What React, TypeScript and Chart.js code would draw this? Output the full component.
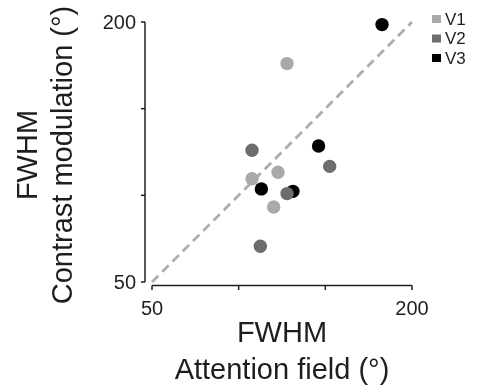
import React, { useEffect, useRef } from "react";
import { Chart, registerables } from "chart.js";
Chart.register(...registerables);

const v1X = [127.9, 122.7, 107.7, 120.2];
const v1Y = [176, 113.3, 109.6, 93.3];
const v2X = [107.7, 152.5, 127.9, 112.5];
const v2Y = [126, 116.7, 101, 70.6];
const v3X = [182.7, 146.1, 113.1, 131.3];
const v3Y = [198.5, 128.5, 103.7, 102.3];
const axisMin = 50;
const axisMax = 200;
const tickValues = [50, 100, 150, 200];
const tickLabels = ["50", "", "", "200"];
const seriesNames = ["V1", "V2", "V3"];
const seriesColors = ["#a9a9a9", "#6d6d6d", "#000000"];
const xTitle = ["FWHM", "Attention field (°)"];
const yTitle = ["FWHM", "Contrast modulation (°)"];

const FONT = '"Liberation Sans", Arial, Helvetica, sans-serif';
const INK = "#1e1e1e";

const toPts = (xs: number[], ys: number[]) => xs.map((x, i) => ({ x, y: ys[i] }));

const axesPlugin = {
  id: "customAxes",
  afterDraw(chart: any) {
    const ctx = chart.ctx as CanvasRenderingContext2D;
    const xs = chart.scales.x;
    const ys = chart.scales.y;
    const yAxisX = xs.left - 7;
    const xAxisY = ys.bottom + 3.5;
    ctx.save();
    ctx.strokeStyle = INK;
    ctx.fillStyle = INK;
    ctx.lineWidth = 1.5;
    // y spine
    ctx.beginPath();
    ctx.moveTo(yAxisX, ys.getPixelForValue(axisMax));
    ctx.lineTo(yAxisX, ys.getPixelForValue(axisMin));
    ctx.stroke();
    tickValues.forEach((v) => {
      const py = ys.getPixelForValue(v);
      ctx.beginPath();
      ctx.moveTo(yAxisX, py);
      ctx.lineTo(yAxisX - 4, py);
      ctx.stroke();
    });
    // x spine
    ctx.beginPath();
    ctx.moveTo(xs.getPixelForValue(axisMin), xAxisY);
    ctx.lineTo(xs.getPixelForValue(axisMax), xAxisY);
    ctx.stroke();
    tickValues.forEach((v) => {
      const px = xs.getPixelForValue(v);
      ctx.beginPath();
      ctx.moveTo(px, xAxisY);
      ctx.lineTo(px, xAxisY + 4.5);
      ctx.stroke();
    });
    // tick labels
    ctx.font = `20px ${FONT}`;
    ctx.textAlign = "right";
    ctx.textBaseline = "middle";
    tickValues.forEach((v, i) => {
      if (!tickLabels[i]) return;
      ctx.fillText(tickLabels[i], yAxisX - 9, ys.getPixelForValue(v) + 1);
    });
    ctx.textAlign = "center";
    ctx.textBaseline = "alphabetic";
    tickValues.forEach((v, i) => {
      if (!tickLabels[i]) return;
      ctx.fillText(tickLabels[i], xs.getPixelForValue(v), xAxisY + 29.5);
    });
    // axis titles
    ctx.font = `29px ${FONT}`;
    const xc = (xs.left + xs.right) / 2;
    ctx.fillText(xTitle[0], xc, 342);
    ctx.fillText(xTitle[1], xc, 379);
    const yc = (ys.top + ys.bottom) / 2;
    ctx.save();
    ctx.translate(37, yc + 3);
    ctx.rotate(-Math.PI / 2);
    ctx.fillText(yTitle[0], 0, 0);
    ctx.restore();
    ctx.save();
    ctx.translate(72, yc + 3);
    ctx.rotate(-Math.PI / 2);
    ctx.fillText(yTitle[1], 0, 0);
    ctx.restore();
    // legend
    ctx.font = `17px ${FONT}`;
    ctx.textAlign = "left";
    ctx.textBaseline = "middle";
    seriesNames.forEach((name, i) => {
      const cy = 19 + i * 19.5;
      ctx.fillStyle = seriesColors[i];
      ctx.fillRect(432, cy - 4, 9, 8);
      ctx.fillStyle = INK;
      ctx.fillText(name, 445, cy + 1);
    });
    ctx.restore();
  },
};

export default function App() {
  const ref = useRef<HTMLCanvasElement | null>(null);
  useEffect(() => {
    document.body.style.margin = "0";
    const canvas = ref.current;
    if (!canvas) return;
    const pointDs = (i: number, xs: number[], ys: number[]) => ({
      type: "scatter" as const,
      label: seriesNames[i],
      data: toPts(xs, ys),
      backgroundColor: seriesColors[i],
      borderColor: seriesColors[i],
      borderWidth: 0,
      pointRadius: 6.7,
      pointHoverRadius: 6.7,
      order: 1,
      clip: false as any,
    });
    const chart = new Chart(canvas, {
      type: "scatter",
      data: {
        datasets: [
          {
            type: "line",
            label: "identity",
            data: [
              { x: axisMin, y: axisMin },
              { x: axisMax, y: axisMax },
            ],
            borderColor: "#adadad",
            borderWidth: 2.8,
            borderDash: [9, 5.5],
            pointRadius: 0,
            fill: false,
            order: 10,
            clip: false as any,
          } as any,
          pointDs(0, v1X, v1Y),
          pointDs(1, v2X, v2Y),
          pointDs(2, v3X, v3Y),
        ],
      },
      options: {
        responsive: false,
        animation: false,
        events: [],
        layout: {
          autoPadding: false,
          padding: { left: 152, right: 69, top: 22, bottom: 109 },
        },
        scales: {
          x: { type: "linear", min: axisMin, max: axisMax, display: false },
          y: { type: "linear", min: axisMin, max: axisMax, display: false },
        },
        plugins: {
          legend: { display: false },
          tooltip: { enabled: false },
        },
      } as any,
      plugins: [axesPlugin],
    });
    return () => chart.destroy();
  }, []);
  return (
    <div style={{ width: 481, height: 391 }}>
      <canvas ref={ref} width={481} height={391} style={{ display: "block" }} />
    </div>
  );
}
